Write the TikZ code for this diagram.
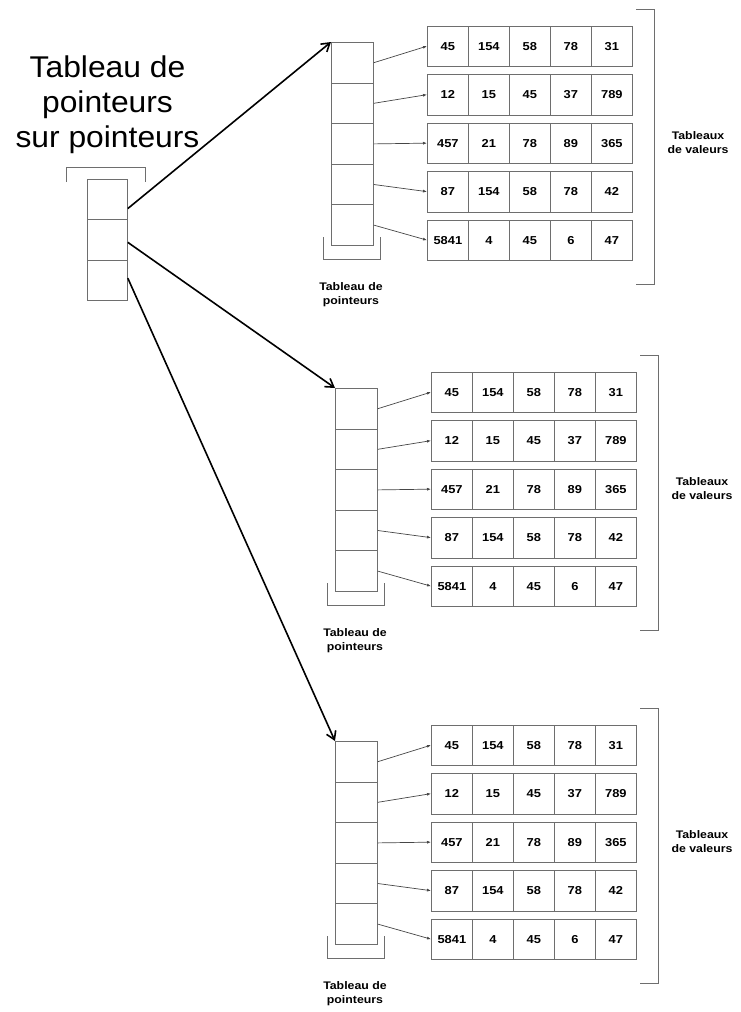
\documentclass[tikz,border=0pt]{standalone}
\usepackage{fontspec}
\setmainfont{Liberation Sans}
\newfontfamily\cellfont[FakeStretch=1.12]{Liberation Sans}
\newfontfamily\titlefont[FakeStretch=1.06]{Liberation Sans}
\usetikzlibrary{arrows.meta,calc}
\definecolor{boxgray}{RGB}{110,110,110}
\definecolor{arrgray}{RGB}{70,70,70}
\tikzset{
  valcell/.style={draw=boxgray, line width=0.8pt, minimum width=41pt, minimum height=40.5pt, inner sep=0pt, anchor=north west,
    font=\cellfont\bfseries\fontsize{11.5}{12}\selectfont, text=black},
  ptrcell/.style={draw=boxgray, line width=0.8pt, minimum width=42pt, minimum height=40.6pt, inner sep=0pt, anchor=north west},
  bigcell/.style={draw=boxgray, line width=0.8pt, minimum width=40pt, minimum height=40.3pt, inner sep=0pt, anchor=north west},
  brack/.style={draw=boxgray, line width=0.8pt},
  smallarrow/.style={draw=arrgray, line width=0.7pt, -{Latex[length=4pt,width=3pt]}},
  bigarrow/.style={draw=black, line width=1.6pt, -{Straight Barb[length=8pt,width=10pt]}},
  lbl/.style={align=center, inner sep=0pt, font=\cellfont\bfseries\fontsize{11}{14}\selectfont},
  title/.style={align=center, inner sep=0pt, font=\titlefont\fontsize{30}{35}\selectfont}
}
\begin{document}
\begin{tikzpicture}[x=1pt,y=-1pt]
\useasboundingbox (0,0) rectangle (740,1012);
% title and main pointer array
\node[title] (titre) at (107.5,105) {Tableau de\\pointeurs\\sur pointeurs};
\foreach \i in {1,2,3} {
  \node[bigcell] (b\i) at (87,{179+(\i-1)*40.3}) {};
}
\draw[brack] (66,182) -- (66,167) -- (145,167) -- (145,182);
% groups
\foreach \g/\px/\py in {1/331/42, 2/335/388, 3/335/741} {
  \foreach \r in {1,...,5} {
    \node[ptrcell] (p\g-\r) at (\px,{\py+(\r-1)*40.6}) {};
  }
  \foreach \r/\vals in {1/{45,154,58,78,31}, 2/{12,15,45,37,789}, 3/{457,21,78,89,365}, 4/{87,154,58,78,42}, 5/{5841,4,45,6,47}} {
    \foreach \v [count=\c] in \vals {
      \node[valcell] (v\g-\r-\c) at ({\px+96+(\c-1)*41},{\py-16.5+(\r-1)*48.5}) {\v};
    }
    \draw[smallarrow] (p\g-\r.east) -- (v\g-\r-1.west);
  }
  % bracket under pointer array
  \draw[brack] ({\px-8},{\py+195}) -- ({\px-8},{\py+217}) -- ({\px+49},{\py+217}) -- ({\px+49},{\py+195});
  % bracket right of value arrays
  \draw[brack] ({\px+305},{\py-32.5}) -- ({\px+323},{\py-32.5}) -- ({\px+323},{\py+242}) -- ({\px+305},{\py+242});
  \node[lbl] (tp\g) at ({\px+20},{\py+253}) {Tableau de\\pointeurs};
  \node[lbl] (tv\g) at ({\px+367},{\py+101}) {Tableaux\\de valeurs};
}
% big arrows
\draw[bigarrow] ([yshift=-9pt]b1.east) -- (p1-1.north west);
\draw[bigarrow] ([yshift=-2.5pt]b2.east) -- (p2-1.north west);
\draw[bigarrow] ([yshift=2pt]b3.east) -- (p3-1.north west);
\end{tikzpicture}
\end{document}
